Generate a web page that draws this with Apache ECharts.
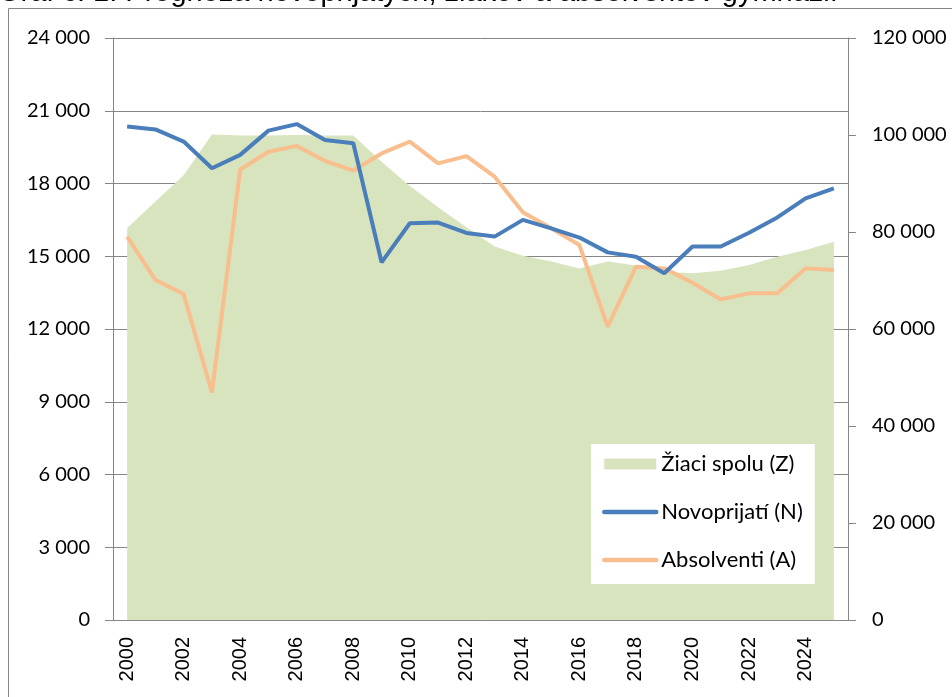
<!DOCTYPE html>
<html>
<head>
<meta charset="utf-8">
<script src="https://cdn.jsdelivr.net/npm/echarts@6/dist/echarts.min.js"></script>
<style>
  html, body { margin: 0; padding: 0; background: #fff; }
  #chart { width: 952px; height: 697px; }
</style>
</head>
<body>
<div id="chart"></div>
<script>
// roky
var years = ['2000','2001','2002','2003','2004','2005','2006','2007','2008','2009','2010','2011','2012',
  '2013','2014','2015','2016','2017','2018','2019','2020','2021','2022','2023','2024','2025'];
// Žiaci spolu (pravá os)
var ziaci = [80800, 86300, 91700, 100100, 99900, 99900, 100000, 99900, 99900, 94500, 89500, 85100, 81000,
  77000, 75100, 73900, 72500, 73900, 73100, 71800, 71500, 72000, 73200, 74900, 76300, 78000];
// Novoprijatí (ľavá os)
var novoprijati = [20350, 20230, 19730, 18630, 19180, 20180, 20450, 19790, 19660, 14750, 16360, 16390, 15960,
  15810, 16500, 16150, 15770, 15160, 14980, 14300, 15400, 15400, 15970, 16600, 17390, 17800];
// Absolventi (ľavá os)
var absolventi = [15810, 14020, 13440, 9380, 18580, 19310, 19550, 18930, 18530, 19240, 19730, 18830, 19130,
  18280, 16810, 16150, 15460, 12100, 14570, 14500, 13910, 13220, 13470, 13470, 14500, 14430];

var fmt = function (v) { return String(v).replace(/\B(?=(\d{3})+(?!\d))/g, ' '); };
var gray = '#868686';

var myChart = echarts.init(document.getElementById('chart'));
var option = {
  animation: false,
  title: {
    text: 'Graf č. 1: Prognóza novoprijatých, žiakov a absolventov gymnázií',
    left: -2,
    top: -22,
    padding: 0,
    textStyle: { fontFamily: 'Liberation Sans', fontSize: 29, fontWeight: 'normal', color: '#000' }
  },
  graphic: [{
    type: 'rect',
    shape: { x: 8.5, y: 8.5, width: 1000, height: 1000 },
    style: { fill: 'none', stroke: gray, lineWidth: 1 },
    silent: true
  }],
  legend: {
    orient: 'vertical',
    left: 591,
    top: 444,
    width: 221,
    backgroundColor: '#fff',
    padding: [9, 12, 13, 11],
    itemWidth: 52,
    itemHeight: 11,
    itemGap: 26,
    textStyle: { fontFamily: 'Lato', fontSize: 22, color: '#000' },
    data: [
      { name: 'Žiaci spolu (Z)', icon: 'rect', itemStyle: { color: '#D7E4BD' } },
      { name: 'Novoprijatí (N)', itemStyle: { opacity: 0 }, lineStyle: { width: 4.5, cap: 'round' } },
      { name: 'Absolventi (A)', itemStyle: { opacity: 0 }, lineStyle: { width: 4.5, cap: 'round' } }
    ]
  },
  grid: { left: 113, right: 104, top: 38, bottom: 77 },
  xAxis: {
    type: 'category',
    data: years,
    boundaryGap: true,
    axisLine: { lineStyle: { color: gray } },
    axisTick: { interval: 0, length: 8, lineStyle: { color: gray } },
    axisLabel: {
      interval: 1,
      rotate: 90,
      margin: 17,
      fontFamily: 'Liberation Sans',
      fontSize: 20,
      color: '#000'
    }
  },
  yAxis: [{
    type: 'value',
    min: 0,
    max: 24000,
    interval: 3000,
    axisLine: { show: true, lineStyle: { color: gray } },
    axisTick: { show: true, length: 8, lineStyle: { color: gray } },
    splitLine: { lineStyle: { color: gray } },
    axisLabel: { margin: 23, fontFamily: 'Lato', fontSize: 20, color: '#000', formatter: fmt }
  }, {
    type: 'value',
    min: 0,
    max: 120000,
    interval: 20000,
    position: 'right',
    axisLine: { show: true, lineStyle: { color: gray } },
    axisTick: { show: true, length: 8, lineStyle: { color: gray } },
    splitLine: { show: false },
    axisLabel: { margin: 24, fontFamily: 'Lato', fontSize: 20, color: '#000', formatter: fmt }
  }],
  series: [{
    name: 'Žiaci spolu (Z)',
    type: 'line',
    yAxisIndex: 1,
    data: ziaci,
    symbol: 'none',
    color: '#D7E4BD',
    lineStyle: { width: 0 },
    areaStyle: { color: '#D7E4BD', opacity: 1 },
    z: 1
  }, {
    name: 'Novoprijatí (N)',
    type: 'line',
    data: novoprijati,
    symbol: 'none',
    color: '#4A7EBB',
    lineStyle: { width: 4, color: '#4A7EBB' },
    z: 3
  }, {
    name: 'Absolventi (A)',
    type: 'line',
    data: absolventi,
    symbol: 'none',
    color: '#F9BE8E',
    lineStyle: { width: 4, color: '#F9BE8E' },
    z: 2
  }]
};
myChart.setOption(option);
</script>
</body>
</html>
